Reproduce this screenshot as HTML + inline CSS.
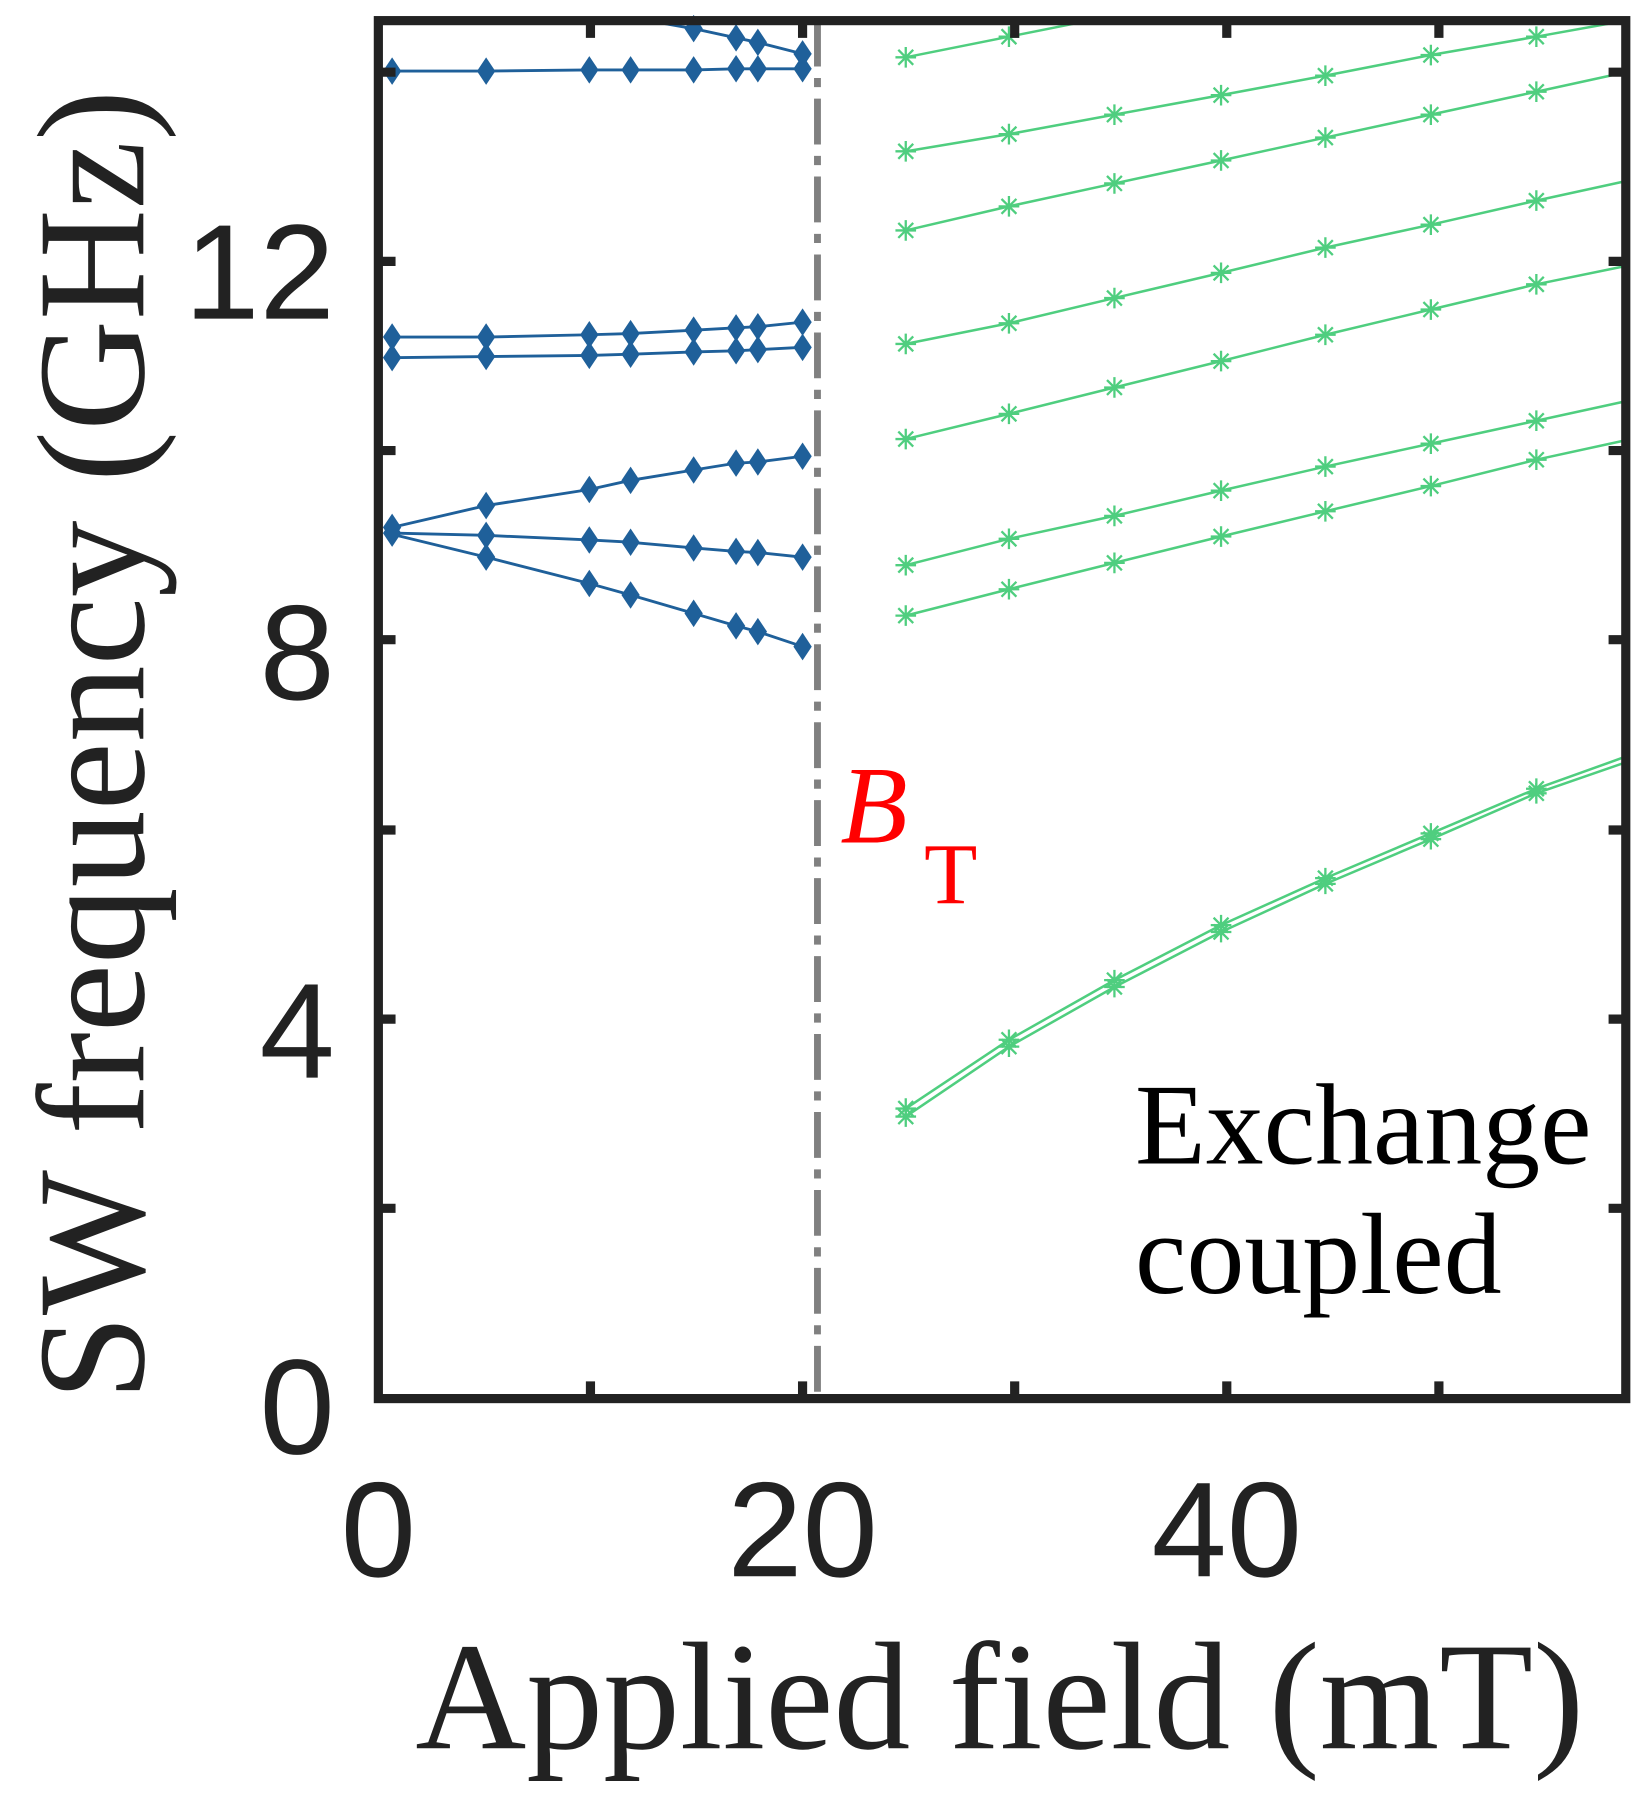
<!DOCTYPE html>
<html><head><style>html,body{margin:0;padding:0;background:#fff}</style></head><body>
<svg width="1651" height="1809" viewBox="0 0 1440 1578" preserveAspectRatio="none" xmlns="http://www.w3.org/2000/svg">
<defs>
<g id="d"><path d="M0,-12 L8,0 L0,12 L-8,0Z" fill="#1f609a"/></g>
<g id="s" stroke="#4fce7f" stroke-width="2"><path d="M-9,0H9M0,-9V9M-6.5,-6.5L6.5,6.5M-6.5,6.5L6.5,-6.5"/></g>
</defs>
<g fill="none" stroke="#1f609a" stroke-width="2.5">
<polyline points="342,62 424,62 514,61 550,61 605,61 642,60 661,60 700,60"/>
<polyline points="565,18 605,25 642,33 661,37 700,47"/>
<polyline points="342,294 424,294 514,292 550,291 605,288 642,286 661,285 700,281"/>
<polyline points="342,312 424,311 514,310 550,309 605,307 642,306 661,305 700,303"/>
<polyline points="342,460 424,441 514,427 550,419 605,410 642,404 661,403 700,398"/>
<polyline points="342,465 424,467 514,471 550,473 605,478 642,481 661,482 700,486"/>
<polyline points="342,466 424,486 514,509 550,519 605,535 642,546 661,551 700,564"/>
</g>
<g>
<use href="#d" x="342" y="62"/><use href="#d" x="424" y="62"/><use href="#d" x="514" y="61"/><use href="#d" x="550" y="61"/><use href="#d" x="605" y="61"/><use href="#d" x="642" y="60"/><use href="#d" x="661" y="60"/><use href="#d" x="700" y="60"/>
<use href="#d" x="605" y="25"/><use href="#d" x="642" y="33"/><use href="#d" x="661" y="37"/><use href="#d" x="700" y="47"/>
<use href="#d" x="342" y="294"/><use href="#d" x="424" y="294"/><use href="#d" x="514" y="292"/><use href="#d" x="550" y="291"/><use href="#d" x="605" y="288"/><use href="#d" x="642" y="286"/><use href="#d" x="661" y="285"/><use href="#d" x="700" y="281"/>
<use href="#d" x="342" y="312"/><use href="#d" x="424" y="311"/><use href="#d" x="514" y="310"/><use href="#d" x="550" y="309"/><use href="#d" x="605" y="307"/><use href="#d" x="642" y="306"/><use href="#d" x="661" y="305"/><use href="#d" x="700" y="303"/>
<use href="#d" x="342" y="460"/><use href="#d" x="424" y="441"/><use href="#d" x="514" y="427"/><use href="#d" x="550" y="419"/><use href="#d" x="605" y="410"/><use href="#d" x="642" y="404"/><use href="#d" x="661" y="403"/><use href="#d" x="700" y="398"/>
<use href="#d" x="342" y="465"/><use href="#d" x="424" y="467"/><use href="#d" x="514" y="471"/><use href="#d" x="550" y="473"/><use href="#d" x="605" y="478"/><use href="#d" x="642" y="481"/><use href="#d" x="661" y="482"/><use href="#d" x="700" y="486"/>
<use href="#d" x="424" y="486"/><use href="#d" x="514" y="509"/><use href="#d" x="550" y="519"/><use href="#d" x="605" y="535"/><use href="#d" x="642" y="546"/><use href="#d" x="661" y="551"/><use href="#d" x="700" y="564"/>
</g>
<g fill="none" stroke="#4fce7f" stroke-width="2.2">
<polyline points="790,50 880,32 940,20"/>
<polyline points="790,132 880,117 972,100 1065,83 1156,66 1248,48 1340,32 1418,18"/>
<polyline points="790,201 880,180 972,160 1065,140 1156,120 1248,100 1340,80 1418,63"/>
<polyline points="790,300 880,282 972,260 1065,238 1156,216 1248,196 1340,175 1418,158"/>
<polyline points="790,383 880,361 972,338 1065,315 1156,292 1248,270 1340,248 1418,232"/>
<polyline points="790,493 880,470 972,450 1065,428 1156,407 1248,387 1340,367 1418,350"/>
<polyline points="790,537 880,514 972,491 1065,468 1156,446 1248,424 1340,401 1418,384"/>
<polyline points="790,967 880,907 972,855 1065,807 1156,766 1248,727 1340,688 1418,660"/>
<polyline points="790,974 880,913 972,861 1065,813 1156,771 1248,732 1340,692 1418,665"/>
</g>
<g>
<use href="#s" x="790" y="50"/><use href="#s" x="880" y="32"/>
<use href="#s" x="790" y="132"/><use href="#s" x="880" y="117"/><use href="#s" x="972" y="100"/><use href="#s" x="1065" y="83"/><use href="#s" x="1156" y="66"/><use href="#s" x="1248" y="48"/><use href="#s" x="1340" y="32"/>
<use href="#s" x="790" y="201"/><use href="#s" x="880" y="180"/><use href="#s" x="972" y="160"/><use href="#s" x="1065" y="140"/><use href="#s" x="1156" y="120"/><use href="#s" x="1248" y="100"/><use href="#s" x="1340" y="80"/>
<use href="#s" x="790" y="300"/><use href="#s" x="880" y="282"/><use href="#s" x="972" y="260"/><use href="#s" x="1065" y="238"/><use href="#s" x="1156" y="216"/><use href="#s" x="1248" y="196"/><use href="#s" x="1340" y="175"/>
<use href="#s" x="790" y="383"/><use href="#s" x="880" y="361"/><use href="#s" x="972" y="338"/><use href="#s" x="1065" y="315"/><use href="#s" x="1156" y="292"/><use href="#s" x="1248" y="270"/><use href="#s" x="1340" y="248"/>
<use href="#s" x="790" y="493"/><use href="#s" x="880" y="470"/><use href="#s" x="972" y="450"/><use href="#s" x="1065" y="428"/><use href="#s" x="1156" y="407"/><use href="#s" x="1248" y="387"/><use href="#s" x="1340" y="367"/>
<use href="#s" x="790" y="537"/><use href="#s" x="880" y="514"/><use href="#s" x="972" y="491"/><use href="#s" x="1065" y="468"/><use href="#s" x="1156" y="446"/><use href="#s" x="1248" y="424"/><use href="#s" x="1340" y="401"/>
<use href="#s" x="790" y="967"/><use href="#s" x="880" y="907"/><use href="#s" x="972" y="855"/><use href="#s" x="1065" y="807"/><use href="#s" x="1156" y="766"/><use href="#s" x="1248" y="727"/><use href="#s" x="1340" y="688"/>
<use href="#s" x="790" y="974"/><use href="#s" x="880" y="913"/><use href="#s" x="972" y="861"/><use href="#s" x="1065" y="813"/><use href="#s" x="1156" y="771"/><use href="#s" x="1248" y="732"/><use href="#s" x="1340" y="692"/>
</g>
<line x1="713" y1="18" x2="713" y2="1220" stroke="#808080" stroke-width="6" stroke-dasharray="40,10,8,10"/>
<g stroke="#222" stroke-width="8" fill="none">
<rect x="330" y="18" width="1088" height="1202"/>
<path d="M330,1054h15M330,889h15M330,724h15M330,558h15M330,393h15M330,228h15M330,63h15
M1418,1054h-15M1418,889h-15M1418,724h-15M1418,558h-15M1418,393h-15M1418,228h-15M1418,63h-15
M515,1220v-15M700,1220v-15M885,1220v-15M1070,1220v-15M1255,1220v-15
M515,18v15M700,18v15M885,18v15M1070,18v15M1255,18v15"/>
</g>
<g font-family="Liberation Sans, sans-serif" font-size="118" fill="#222" text-anchor="end">
<text x="292" y="278">12</text><text x="292" y="610">8</text><text x="292" y="940">4</text><text x="292" y="1268">0</text>
</g>
<g font-family="Liberation Sans, sans-serif" font-size="118" fill="#222" text-anchor="middle">
<text x="330" y="1375">0</text><text x="700" y="1375">20</text><text x="1070" y="1375">40</text>
</g>
<text x="872" y="1525" font-family="Liberation Serif, serif" font-size="134" fill="#222" text-anchor="middle">Applied field (mT)</text>
<text transform="translate(125,650) rotate(-90)" font-family="Liberation Serif, serif" font-size="134" fill="#222" text-anchor="middle">SW frequency (GHz)</text>
<g font-family="Liberation Serif, serif" font-size="101" fill="#000">
<text x="990" y="1015">Exchange</text><text x="990" y="1128">coupled</text>
</g>
<text x="733" y="735" font-family="Liberation Serif, serif" font-size="96" fill="#f00" font-style="italic">B</text>
<text x="806" y="788" font-family="Liberation Serif, serif" font-size="76" fill="#f00">T</text>
</svg>
</body></html>
